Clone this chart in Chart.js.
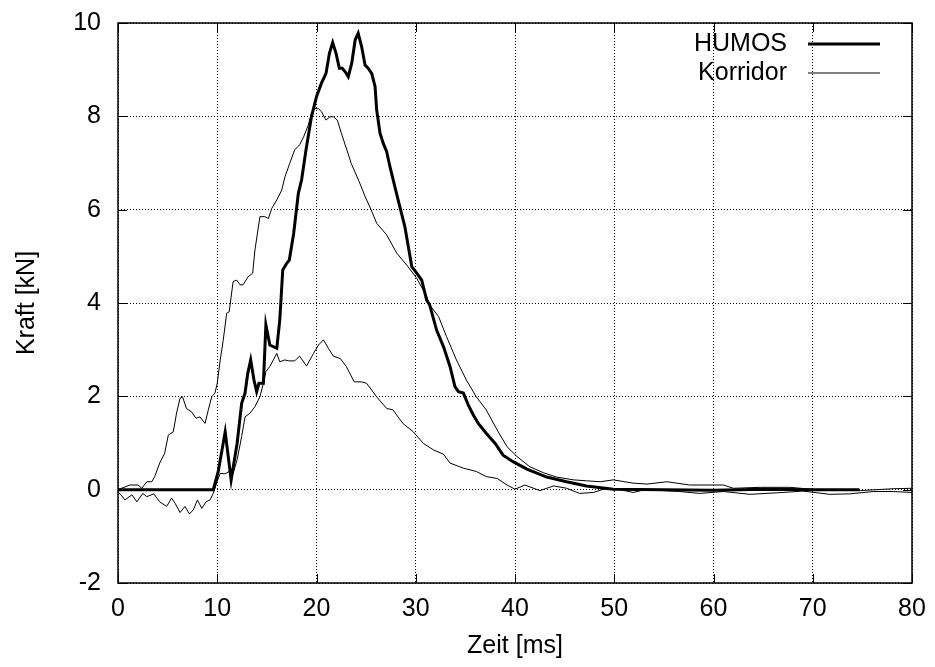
<!DOCTYPE html>
<html>
<head>
<meta charset="utf-8">
<script src="https://cdn.jsdelivr.net/npm/chart.js@4/dist/chart.umd.min.js"></script>
<style>
body{margin:0;background:#fff;}
#wrap{width:935px;height:667px;}
</style>
</head>
<body>
<div id="wrap"><canvas id="kraftChart" width="935" height="667"></canvas></div>
<script>
// Zeit [ms] / Kraft [kN]
const humosT = [0,9.6,10.1,10.8,11.4,12.0,12.46,12.8,13.07,13.37,13.7,13.97,14.2,14.65,14.9,15.3,16.0,16.3,16.6,17.0,17.26,17.7,18.17,18.5,18.94,19.5,20.0,20.5,20.96,21.3,21.63,21.97,22.3,22.6,22.87,23.2,23.55,23.9,24.2,24.55,24.89,25.2,25.56,25.9,26.06,26.4,26.73,27.07,27.4,27.9,28.4,28.9,29.25,29.6,30.1,30.6,31.1,31.4,32.1,32.8,33.45,33.95,34.3,34.8,35.3,35.8,36.3,37.1,38.0,38.8,39.8,41.2,43.2,45.2,47.2,49.9,55,60,65,70,74.7];
const humosF = [0,0,0.39,1.24,0.21,0.99,1.85,2.07,2.49,2.78,2.35,2.1,2.28,2.28,3.53,3.1,3.03,3.64,4.71,4.85,4.92,5.49,6.35,6.64,7.28,8.0,8.42,8.71,8.92,9.35,9.58,9.35,9.03,9.03,8.96,8.85,9.14,9.64,9.78,9.49,9.1,9.03,8.92,8.64,8.14,7.64,7.42,7.24,6.92,6.49,6.06,5.64,5.21,4.78,4.64,4.49,4.06,3.96,3.42,3.06,2.64,2.21,2.1,2.07,1.81,1.6,1.42,1.21,0.99,0.74,0.6,0.44,0.27,0.17,0.08,0.01,0,-0.01,0.01,0,0];

const upperT = [0,1.2,2.0,2.4,2.9,3.4,3.7,4.2,4.7,5.07,5.57,5.9,6.25,6.5,6.9,7.4,7.86,8.26,8.77,9.1,9.44,9.77,10.0,10.3,10.6,10.95,11.2,11.6,11.96,12.3,12.6,13.1,13.57,13.8,14.3,14.8,15.15,15.5,16.0,16.5,16.83,17.3,17.8,18.3,18.7,19.17,19.5,19.85,20.2,20.5,20.96,21.36,21.7,22.1,22.5,23.0,23.5,24.3,24.9,25.5,26.06,27.07,28.08,29.1,30.1,31.1,31.4,32.3,33.1,34.1,35.1,36.1,37.1,38.2,39.2,40.2,41.5,42.9,44.2,45.9,47.2,48.6,49.9,51.9,53.3,55.3,57.6,61.0,62.0,64.7,67.7,70.4,74.8,78.1,80];
const upperF = [0,0.1,0.1,0.03,0.17,0.17,0.28,0.57,0.78,1.17,1.24,1.64,1.96,1.99,1.74,1.67,1.53,1.56,1.42,1.71,1.99,2.07,2.28,2.78,3.2,3.78,3.81,4.46,4.49,4.39,4.39,4.56,4.64,5.14,5.85,5.85,5.81,6.03,6.21,6.42,6.71,6.99,7.28,7.39,7.56,7.81,8.07,8.17,8.16,8.1,7.92,7.99,7.99,7.92,7.64,7.32,6.99,6.6,6.28,6.0,5.71,5.46,5.07,4.81,4.53,4.14,3.96,3.71,3.28,2.78,2.35,1.99,1.71,1.28,0.92,0.71,0.49,0.36,0.27,0.21,0.19,0.17,0.21,0.14,0.12,0.17,0.1,0.1,0.03,0.05,0.05,0,-0.02,0.02,0.03];

const lowerT = [0,0.3,0.7,1.4,1.9,2.5,2.9,3.6,4.2,4.9,5.4,5.75,6.25,6.75,7.2,7.6,8.0,8.44,8.87,9.27,9.6,9.94,10.3,10.8,11.2,11.6,12.0,12.46,12.8,13.3,13.8,14.3,14.65,14.9,15.3,15.65,16.0,16.3,16.8,17.2,17.8,18.3,19.0,19.7,20.2,20.7,21.2,21.7,22.4,23.0,23.8,24.55,25.05,26.06,27.07,27.7,28.7,29.75,30.77,31.8,32.8,33.45,34.8,36.1,37.1,38.2,39.2,40.0,41.0,42.5,43.9,45.2,46.5,47.9,49.2,50.6,51.9,53.3,54.9,56.6,58.6,61,63.7,67.0,69,71.7,73.7,76.1,78.1,80];
const lowerF = [-0.05,-0.11,-0.22,-0.11,-0.26,-0.08,-0.15,-0.09,-0.26,-0.36,-0.18,-0.29,-0.49,-0.36,-0.52,-0.43,-0.22,-0.4,-0.26,-0.22,-0.08,0.14,0.35,0.34,0.39,0.35,0.64,1.14,1.56,1.64,1.78,1.99,2.28,2.53,2.64,2.78,2.92,2.74,2.78,2.76,2.76,2.86,2.65,2.92,3.1,3.21,3.03,2.86,2.81,2.64,2.31,2.31,2.28,1.99,1.74,1.71,1.42,1.24,0.99,0.85,0.76,0.57,0.46,0.39,0.28,0.24,0.1,0.01,0.1,-0.02,0.08,0.03,-0.08,-0.06,0.03,0,-0.06,0.01,-0.02,-0.04,-0.08,-0.04,-0.1,-0.06,-0.03,-0.1,-0.09,-0.04,-0.04,-0.06];

const xTicks = [0,10,20,30,40,50,60,70,80];
const yTicks = [-2,0,2,4,6,8,10];
const legendLabels = ['HUMOS','Korridor'];

const FONT = 'Liberation Sans, Arial, Helvetica, sans-serif';

function pts(ts,fs){
return ts.map((t,i)=>({x:t,y:fs[i]}));
}

// gnuplot-like frame with inward ticks on all four sides + legend
const framePlugin = {
id:'frame',
afterDraw(chart){
const ctx = chart.ctx;
const a = chart.chartArea;
const xs = chart.scales.x, ys = chart.scales.y;
ctx.save();
ctx.strokeStyle = '#000';
ctx.lineWidth = 1.5;
ctx.setLineDash([]);
ctx.strokeRect(a.left,a.top,a.right-a.left,a.bottom-a.top);
ctx.lineWidth = 1;
ctx.beginPath();
xTicks.forEach(v=>{
const px = Math.round(xs.getPixelForValue(v))+0.5;
ctx.moveTo(px,a.bottom); ctx.lineTo(px,a.bottom-9);
ctx.moveTo(px,a.top); ctx.lineTo(px,a.top+9);
});
yTicks.forEach(v=>{
const py = Math.round(ys.getPixelForValue(v))+0.5;
ctx.moveTo(a.left,py); ctx.lineTo(a.left+9,py);
ctx.moveTo(a.right,py); ctx.lineTo(a.right-9,py);
});
ctx.stroke();

// legend
ctx.font = '25px ' + FONT;
ctx.fillStyle = '#000';
ctx.textAlign = 'right';
ctx.textBaseline = 'middle';
const widths = [3,1];
legendLabels.forEach((lab,i)=>{
const y = a.top + 21 + i*29;
ctx.fillText(lab, a.right-125, y);
ctx.lineWidth = widths[i];
ctx.beginPath();
ctx.moveTo(a.right-104,y); ctx.lineTo(a.right-32,y);
ctx.stroke();
});
ctx.restore();
}
};

new Chart(document.getElementById('kraftChart'),{
type:'line',
data:{
datasets:[
{label:'HUMOS',data:pts(humosT,humosF),borderColor:'#000',borderWidth:3,pointRadius:0,tension:0,fill:false},
{label:'Korridor',data:pts(upperT,upperF),borderColor:'#000',borderWidth:1,pointRadius:0,tension:0,fill:false},
{label:'Korridor',data:pts(lowerT,lowerF),borderColor:'#000',borderWidth:1,pointRadius:0,tension:0,fill:false}
]
},
options:{
responsive:false,
animation:false,
layout:{padding:{left:0,right:23,top:23,bottom:0}},
plugins:{legend:{display:false},tooltip:{enabled:false}},
scales:{
x:{
type:'linear',min:0,max:80,
afterBuildTicks(s){s.ticks = xTicks.map(v=>({value:v}));},
afterFit(s){s.height = 84; s.paddingLeft = 0; s.paddingRight = 0;},
ticks:{color:'#000',font:{family:FONT,size:25},padding:11,maxRotation:0},
grid:{color:'#000',lineWidth:1,drawTicks:false},
border:{display:false,dash:[1,2]},
title:{display:true,text:'Zeit [ms]',color:'#000',font:{family:FONT,size:25},padding:{top:0,bottom:6}}
},
y:{
type:'linear',min:-2,max:10,
afterBuildTicks(s){s.ticks = yTicks.map(v=>({value:v}));},
afterFit(s){s.width = 118; s.paddingTop = 0; s.paddingBottom = 0;},
ticks:{color:'#000',font:{family:FONT,size:25},padding:17},
grid:{color:'#000',lineWidth:1,drawTicks:false},
border:{display:false,dash:[1,2]},
title:{display:true,text:'Kraft [kN]',color:'#000',font:{family:FONT,size:25},padding:{top:12,bottom:0}}
}
}
},
plugins:[framePlugin]
});
</script>
</body>
</html>
